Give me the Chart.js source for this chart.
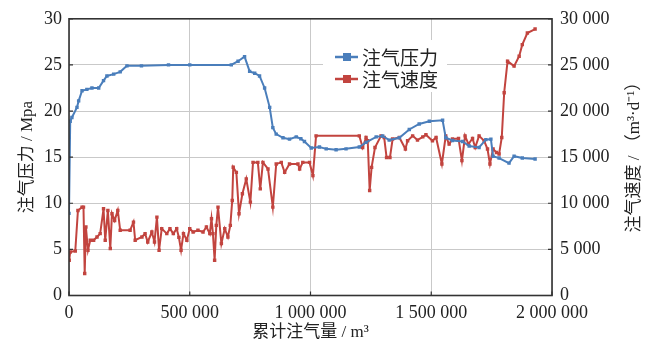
<!DOCTYPE html>
<html>
<head>
<meta charset="utf-8">
<script src="https://cdn.jsdelivr.net/npm/chart.js@4"></script>
<style>
html, body { margin: 0; padding: 0; background: #fff; }
#wrap { width: 654px; height: 348px; }
</style>
</head>
<body>
<div id="wrap"><canvas id="gasChart" width="654" height="348"></canvas></div>
<script>
// --- 数据 ---
const pressureX = [0, 5000, 12000, 33000, 40000, 54000, 74000, 95000, 123000, 143000, 157000, 185000, 212000, 240000, 300000, 412000, 500000, 672000, 700000, 727000, 748000, 769000, 789000, 810000, 831000, 844000, 858000, 886000, 913000, 941000, 960000, 975000, 1003000, 1037000, 1065000, 1106000, 1147000, 1202000, 1230000, 1272000, 1299000, 1326000, 1368000, 1409000, 1450000, 1492000, 1547000, 1560000, 1588000, 1630000, 1657000, 1698000, 1726000, 1747000, 1756000, 1781000, 1822000, 1843000, 1877000, 1930000];
const pressureY = [8.9, 18.9, 19.3, 20.4, 21.1, 22.2, 22.35, 22.5, 22.5, 23.3, 23.8, 24.0, 24.25, 24.9, 24.9, 25.0, 25.0, 25.0, 25.4, 25.9, 24.3, 24.1, 23.8, 22.5, 20.4, 18.2, 17.5, 17.1, 16.95, 17.2, 17.0, 16.7, 16.0, 16.1, 15.9, 15.8, 15.9, 16.1, 16.6, 17.2, 17.3, 16.85, 17.1, 18.0, 18.6, 18.9, 19.0, 17.1, 16.8, 16.7, 16.2, 16.05, 16.9, 16.95, 15.1, 14.9, 14.35, 15.1, 14.9, 14.8];

const speedX = [1000, 5000, 26000, 37000, 54000, 60000, 65000, 70000, 78500, 88000, 102000, 116000, 129000, 143000, 150000, 161000, 171000, 178000, 189000, 202000, 212000, 253000, 267000, 274000, 302000, 315000, 326000, 343000, 354000, 364000, 373000, 384000, 405000, 418000, 432000, 446000, 455000, 464000, 474000, 488000, 500000, 514000, 534000, 555000, 569000, 583000, 590000, 596000, 603000, 610000, 617000, 631000, 645000, 658000, 668000, 676000, 680000, 693000, 704000, 718000, 734000, 751000, 762000, 782000, 792000, 803000, 824000, 844000, 858000, 879000, 893000, 913000, 948000, 955000, 968000, 996000, 1010000, 1023000, 1202000, 1216000, 1230000, 1237000, 1245000, 1253000, 1267000, 1292000, 1305000, 1315000, 1329000, 1340000, 1368000, 1393000, 1402000, 1423000, 1443000, 1465000, 1478000, 1505000, 1520000, 1544000, 1560000, 1574000, 1588000, 1613000, 1627000, 1640000, 1654000, 1671000, 1682000, 1698000, 1719000, 1733000, 1743000, 1756000, 1770000, 1781000, 1792000, 1802000, 1816000, 1843000, 1864000, 1877000, 1898000, 1930000];
const speedY = [3830, 4725, 4830, 9220, 9580, 9580, 2390, 7420, 4910, 5990, 5990, 6340, 6710, 9400, 5990, 9220, 5090, 8870, 8140, 9220, 7070, 7070, 7960, 5990, 6340, 6710, 5800, 6880, 5800, 8500, 4910, 7250, 6710, 7250, 6710, 7250, 6300, 4910, 6710, 5990, 7250, 6880, 7070, 6880, 7420, 6710, 8330, 6710, 3830, 7600, 9580, 5630, 7250, 6340, 7600, 10300, 13900, 13350, 8870, 11030, 12640, 10120, 14430, 14430, 11560, 14430, 13720, 9580, 14260, 14430, 13350, 14260, 14260, 13720, 14430, 14430, 13000, 17310, 17310, 16050, 17130, 16770, 11380, 13890, 16050, 17310, 17130, 14970, 14970, 16960, 17130, 15880, 16770, 17310, 16850, 17200, 17420, 16770, 17130, 14260, 17310, 16420, 16960, 17020, 14620, 17310, 16420, 17020, 16050, 17310, 16770, 15880, 14260, 15880, 15510, 15340, 17130, 21990, 25400, 24870, 25940, 27200, 28460, 28890];

const seriesLabels = ['注气压力', '注气速度'];
const xTitle = '累计注气量 / m³';
const yTitle = '注气压力 / Mpa';
const y1Title = '注气速度 / （m³·d⁻¹）';

const BLUE = '#4a7ebb';
const RED = '#c2443f';
const TICK_FONT = { family: "'Liberation Serif', 'Times New Roman', serif", size: 18 };
const TITLE_FONT = { family: "'Liberation Serif', 'Noto Sans CJK SC', serif", size: 17 };
const GRID = '#c9c9c9';

const withSpaces = v => String(v).replace(/\B(?=(\d{3})+(?!\d))/g, ' ');

// --- 边框、内刻度、图例、右轴标题 ---
const framePlugin = {
    id: 'frame',
    afterDatasetsDraw(chart) {
        const { ctx, chartArea: a, scales } = chart;
        ctx.save();

        // 图例底框
        ctx.fillStyle = '#fff';
        ctx.fillRect(323, 40, 124, 52);
        chart.data.datasets.forEach((ds, i) => {
            const cy = 57 + i * 22;
            ctx.strokeStyle = ds.borderColor;
            ctx.lineWidth = 2.5;
            ctx.beginPath();
            ctx.moveTo(335, cy);
            ctx.lineTo(358, cy);
            ctx.stroke();
            ctx.fillStyle = ds.borderColor;
            ctx.fillRect(343, cy - 4, 8, 8);
            ctx.fillStyle = '#222';
            ctx.font = "19px 'Noto Sans CJK SC'";
            ctx.textAlign = 'left';
            ctx.textBaseline = 'middle';
            ctx.fillText(ds.label, 362, cy + 1);
        });

        // 内刻度
        ctx.strokeStyle = '#333';
        ctx.lineWidth = 1.2;
        scales.y.ticks.forEach(t => {
            const py = scales.y.getPixelForValue(t.value);
            ctx.beginPath();
            ctx.moveTo(a.left, py); ctx.lineTo(a.left + 4, py);
            ctx.moveTo(a.right, py); ctx.lineTo(a.right - 4, py);
            ctx.stroke();
        });
        scales.x.ticks.forEach(t => {
            const px = scales.x.getPixelForValue(t.value);
            ctx.beginPath();
            ctx.moveTo(px, a.bottom); ctx.lineTo(px, a.bottom - 4);
            ctx.stroke();
        });

        // 外框
        ctx.strokeStyle = '#333';
        ctx.lineWidth = 1.6;
        ctx.strokeRect(a.left, a.top, a.right - a.left, a.bottom - a.top);

        // 右轴标题（自下而上）
        ctx.translate(635, (a.top + a.bottom) / 2 - 4);
        ctx.rotate(-Math.PI / 2);
        ctx.fillStyle = '#222';
        ctx.font = "17px 'Liberation Serif', 'Noto Sans CJK SC', serif";
        ctx.textAlign = 'center';
        ctx.textBaseline = 'middle';
        ctx.fillText(y1Title, 0, 0);
        ctx.restore();
    }
};

function createGasChart(ctx) {
    return new Chart(ctx, {
        type: 'line',
        data: {
            datasets: [{
                label: seriesLabels[0],
                data: pressureX.map((x, i) => ({ x, y: pressureY[i] })),
                borderColor: BLUE,
                backgroundColor: BLUE,
                borderWidth: 2,
                pointStyle: 'rect',
                pointRadius: 1,
                yAxisID: 'y',
                tension: 0
            }, {
                label: seriesLabels[1],
                data: speedX.map((x, i) => ({ x, y: speedY[i] })),
                borderColor: RED,
                backgroundColor: RED,
                borderWidth: 2,
                pointStyle: 'rect',
                pointRadius: 1,
                yAxisID: 'y1',
                tension: 0
            }]
        },
        options: {
            responsive: false,
            animation: false,
            layout: { padding: { top: 17, left: 0, right: 0, bottom: 0 } },
            plugins: { legend: { display: false }, tooltip: { enabled: false } },
            scales: {
                x: {
                    type: 'linear', min: 0, max: 2000000,
                    afterFit: s => { s.height = 52.5; },
                    grid: { color: GRID, drawTicks: false },
                    border: { display: false },
                    ticks: { stepSize: 500000, padding: 7, maxRotation: 0, autoSkip: false, color: '#222', font: TICK_FONT, callback: withSpaces },
                    title: { display: true, text: xTitle, color: '#222', font: TITLE_FONT, padding: { top: 0, bottom: 5 } }
                },
                y: {
                    position: 'left', min: 0, max: 30,
                    afterFit: s => { s.width = 69; },
                    grid: { color: GRID, drawTicks: false },
                    border: { display: false },
                    ticks: { stepSize: 5, padding: 7, color: '#222', font: TICK_FONT },
                    title: { display: true, text: yTitle, color: '#222', font: TITLE_FONT, padding: { top: 17, bottom: 0 } }
                },
                y1: {
                    position: 'right', min: 0, max: 30000,
                    afterFit: s => { s.width = 102; },
                    grid: { drawOnChartArea: false, drawTicks: false },
                    border: { display: false },
                    ticks: { stepSize: 5000, padding: 8, color: '#222', font: TICK_FONT, callback: withSpaces }
                }
            }
        },
        plugins: [framePlugin]
    });
}

createGasChart(document.getElementById('gasChart').getContext('2d'));
</script>
</body>
</html>
